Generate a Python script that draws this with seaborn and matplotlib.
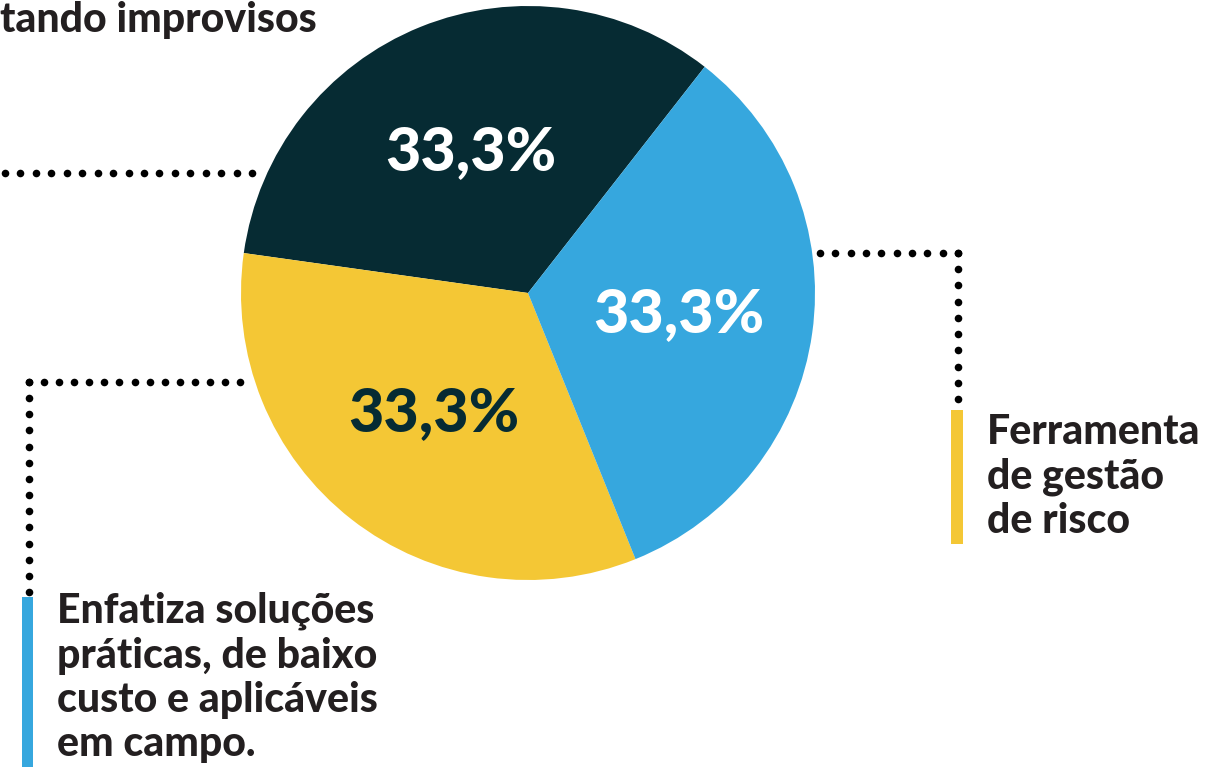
import numpy as np
import matplotlib
matplotlib.use("Agg")
import matplotlib.pyplot as plt
import seaborn as sns

# --- Data ---
categories = [
    "Evitando improvisos",
    "Enfatiza soluções práticas, de baixo custo e aplicáveis em campo.",
    "Ferramenta de gestão de risco",
]
shares = [1, 1, 1]
pct_labels = ["33,3%", "33,3%", "33,3%"]

# --- Style ---
sns.set_theme(style="white")
plt.rcParams["font.family"] = ["Lato", "DejaVu Sans"]

colors = ["#062b33", "#f4c735", "#36a7de"]
pct_colors = ["white", "#062b33", "white"]
text_color = "#231f20"

W, H = 1205, 767
fig = plt.figure(figsize=(W / 100, H / 100), dpi=100)
ax = fig.add_axes([0, 0, 1, 1])


def py(y):
    # image y (top-down) -> axes y (bottom-up)
    return H - y


center = (528, py(293))
radius = 287
wedges, texts, autotexts = ax.pie(
    shares, colors=colors, startangle=52, counterclock=True,
    center=center, radius=radius,
    autopct=lambda p: "", pctdistance=0.53,
    wedgeprops=dict(linewidth=0),
)
for t, lab, c in zip(autotexts, pct_labels, pct_colors):
    t.set_text(lab)
    t.set_color(c)
    t.set_fontsize(44)
    t.set_fontweight("black")

ax.set_xlim(0, W)
ax.set_ylim(0, H)
ax.set_aspect("equal")
ax.axis("off")


# --- dotted leader lines ---
def dotted(x0, y0, x1, y1, step=15.6):
    n = int(round(np.hypot(x1 - x0, y1 - y0) / step))
    xs = np.linspace(x0, x1, n + 1)
    ys = np.linspace(py(y0), py(y1), n + 1)
    ax.scatter(xs, ys, s=30, color="black", lw=0, zorder=3)


dotted(5, 173, 252, 173)
dotted(958, 253, 820, 253)
dotted(958, 253, 958, 399)
dotted(29, 382, 240, 382)
dotted(29, 382, 29, 592)

# --- colour bars beside the labels ---
ax.add_patch(plt.Rectangle((951, py(544)), 12, 134, color=colors[1], lw=0))
ax.add_patch(plt.Rectangle((22, py(767)), 11, 170, color=colors[2], lw=0))

# --- labels ---
lab_style = dict(color=text_color, fontsize=29.5, fontweight="black",
                 linespacing=1.2, va="top", ha="left")
ax.text(0, py(1), "tando improvisos", **lab_style)
ax.text(987, py(413), "Ferramenta\nde gestão\nde risco", **lab_style)
ax.text(57, py(592), "Enfatiza soluções\npráticas, de baixo\ncusto e aplicáveis\nem campo.",
        **lab_style)

fig.savefig("out.png", dpi=100)
